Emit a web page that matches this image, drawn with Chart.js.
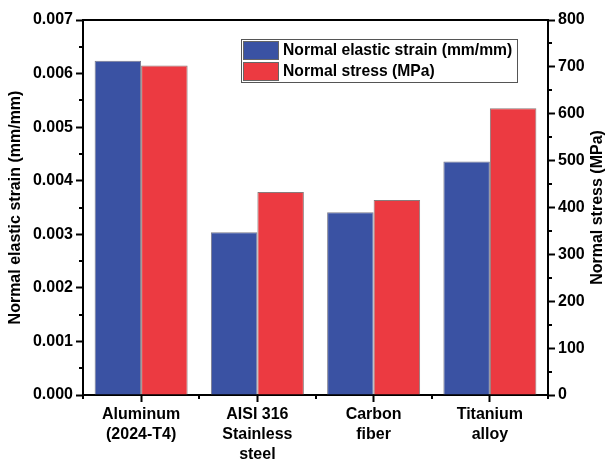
<!DOCTYPE html>
<html>
<head>
<meta charset="utf-8">
<script src="https://cdn.jsdelivr.net/npm/chart.js@4/dist/chart.umd.min.js"></script>
<style>
  html, body { margin: 0; padding: 0; background: #ffffff; }
  #wrap { width: 609px; height: 460px; }
</style>
</head>
<body>
<div id="wrap"><canvas id="chart" width="609" height="460"></canvas></div>
<script>
// Materials compared
const categories = [
  ['Aluminum', '(2024-T4)'],
  ['AISI 316', 'Stainless', 'steel'],
  ['Carbon', 'fiber'],
  ['Titanium', 'alloy']
];
// Normal elastic strain (mm/mm), left axis
const strainValues = [0.00624, 0.00304, 0.00341, 0.00436];
// Normal stress (MPa), right axis
const stressValues = [703, 433, 416, 612];
// Axis tick values
const strainTicks = [0, 0.001, 0.002, 0.003, 0.004, 0.005, 0.006, 0.007];
const stressTicks = [0, 100, 200, 300, 400, 500, 600, 700, 800];

const seriesNames = ['Normal elastic strain (mm/mm)', 'Normal stress (MPa)'];
const seriesColors = ['#3A52A3', '#EC3A41'];
const axisTitles = ['Normal elastic strain (mm/mm)', 'Normal stress (MPa)'];

const FONT = 'Liberation Sans';
Chart.defaults.font.family = FONT;
Chart.defaults.color = '#000';

// Minor ticks halfway between the major ones, frame top line, right-hand title and legend box
const decorations = {
  id: 'decorations',
  afterDraw(chart) {
    const ctx = chart.ctx;
    const a = chart.chartArea;
    const sx = chart.scales.x, sy = chart.scales.y, sy2 = chart.scales.y2;
    ctx.save();
    ctx.strokeStyle = '#000';
    ctx.lineWidth = 2;
    // top frame line
    ctx.beginPath();
    ctx.moveTo(a.left - 1, a.top);
    ctx.lineTo(a.right + 1, a.top);
    ctx.stroke();
    // minor ticks, left axis
    ctx.beginPath();
    for (let i = 0; i < strainTicks.length - 1; i++) {
      const y = Math.round(sy.getPixelForValue((strainTicks[i] + strainTicks[i + 1]) / 2));
      ctx.moveTo(a.left, y); ctx.lineTo(a.left - 4, y);
    }
    // minor ticks, right axis
    for (let i = 0; i < stressTicks.length - 1; i++) {
      const y = Math.round(sy2.getPixelForValue((stressTicks[i] + stressTicks[i + 1]) / 2));
      ctx.moveTo(a.right, y); ctx.lineTo(a.right + 4, y);
    }
    // minor ticks at category boundaries
    for (let i = 0; i <= categories.length; i++) {
      let x;
      if (i === 0) x = a.left;
      else if (i === categories.length) x = a.right;
      else x = (sx.getPixelForTick(i - 1) + sx.getPixelForTick(i)) / 2;
      x = Math.round(x);
      ctx.moveTo(x, a.bottom); ctx.lineTo(x, a.bottom + 4);
    }
    ctx.stroke();

    // right axis title, reading bottom to top
    ctx.fillStyle = '#000';
    ctx.font = 'bold 16px "' + FONT + '"';
    ctx.textAlign = 'center';
    ctx.textBaseline = 'middle';
    ctx.translate(598, (a.top + a.bottom) / 2);
    ctx.rotate(-Math.PI / 2);
    ctx.fillText(axisTitles[1], 0, 0);
    ctx.restore();

    // legend
    ctx.save();
    const bx = 241.5, by = 39.5, bw = 276, bh = 43;
    ctx.fillStyle = '#fff';
    ctx.fillRect(bx, by, bw, bh);
    ctx.strokeStyle = '#555';
    ctx.lineWidth = 1;
    ctx.strokeRect(bx, by, bw, bh);
    ctx.font = 'bold 15.7px "' + FONT + '"';
    ctx.textAlign = 'left';
    ctx.textBaseline = 'middle';
    chart.data.datasets.forEach((ds, i) => {
      const sy0 = 41 + i * 21;
      ctx.fillStyle = ds.backgroundColor;
      ctx.fillRect(243, sy0, 36, 19);
      ctx.strokeStyle = '#666';
      ctx.strokeRect(243.5, sy0 + 0.5, 35, 18);
      ctx.fillStyle = '#000';
      ctx.fillText(ds.label, 283, sy0 + 10);
    });
    ctx.restore();
  }
};

const axisGrid = {
  drawOnChartArea: false,
  drawTicks: true,
  tickLength: 7,
  tickWidth: 2,
  tickColor: '#000'
};
const axisBorder = { display: true, width: 2, color: '#000' };
const tickFont = { family: FONT, size: 16, weight: 'bold' };

new Chart(document.getElementById('chart'), {
  type: 'bar',
  data: {
    labels: categories,
    datasets: [
      {
        label: seriesNames[0],
        data: strainValues,
        yAxisID: 'y',
        backgroundColor: seriesColors[0],
        borderColor: '#7a7a8a',
        borderWidth: 1,
        categoryPercentage: 0.8,
        barPercentage: 1.0
      },
      {
        label: seriesNames[1],
        data: stressValues,
        yAxisID: 'y2',
        backgroundColor: seriesColors[1],
        borderColor: '#8a7a7a',
        borderWidth: 1,
        categoryPercentage: 0.8,
        barPercentage: 1.0
      }
    ]
  },
  options: {
    responsive: false,
    devicePixelRatio: 1,
    animation: false,
    layout: { padding: { top: 20, left: 0, right: 0, bottom: 0 } },
    plugins: {
      legend: { display: false },
      tooltip: { enabled: false }
    },
    scales: {
      x: {
        grid: { ...axisGrid, offset: false },
        border: axisBorder,
        ticks: {
          font: { ...tickFont, lineHeight: 1.25 },
          padding: 3,
          maxRotation: 0,
          autoSkip: false
        },
        afterFit(scale) { scale.height = 65; }
      },
      y: {
        position: 'left',
        min: 0,
        max: 0.007,
        grid: axisGrid,
        border: axisBorder,
        afterBuildTicks(scale) { scale.ticks = strainTicks.map(v => ({ value: v })); },
        ticks: {
          font: tickFont,
          padding: 3,
          callback: v => Number(v).toFixed(3)
        },
        title: {
          display: true,
          text: axisTitles[0],
          font: { family: FONT, size: 16, weight: 'bold' },
          padding: { top: 6, bottom: 0 }
        },
        afterFit(scale) { scale.width = 83; }
      },
      y2: {
        position: 'right',
        min: 0,
        max: 800,
        grid: axisGrid,
        border: axisBorder,
        afterBuildTicks(scale) { scale.ticks = stressTicks.map(v => ({ value: v })); },
        ticks: {
          font: tickFont,
          padding: 3,
          callback: v => String(v)
        },
        afterFit(scale) { scale.width = 61; }
      }
    }
  },
  plugins: [decorations]
});
</script>
</body>
</html>
